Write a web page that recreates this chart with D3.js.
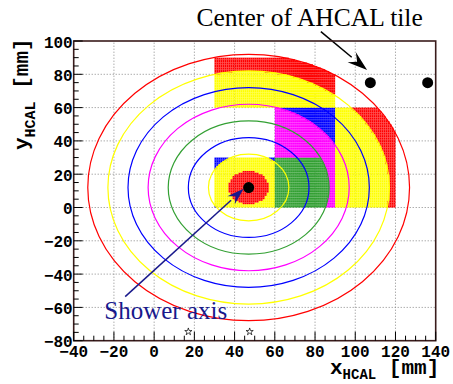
<!DOCTYPE html>
<html>
<head>
<meta charset="utf-8">
<script src="https://cdn.jsdelivr.net/npm/d3@7"></script>
<style>
  html, body { margin: 0; padding: 0; background: #fff; }
  svg { display: block; }
</style>
</head>
<body>
<div id="chart"></div>
<script>
// shower centre and ring structure (mm)
const showerCenter = [47, 12];
const ringRadii = [10, 20, 30, 40, 50, 60, 70, 80];
const ringColors = ["#ff0000", "#ffff00", "#0000ff", "#33a033", "#ff00ff", "#0000ff", "#ffff00", "#ff0000"];

// AHCAL tiles hit by the shower, with the ring range shown in each
const tileX0 = [30, 60, 60, 30, 90];
const tileX1 = [60, 90, 90, 90, 120];
const tileY0 = [0, 0, 30, 60, 0];
const tileY1 = [30, 30, 60, 90, 60];
const tileRingMin = [0, 3, 4, 6, 6];
const tileRingMax = [7, 4, 5, 7, 7];

// tile centres outside the shower, and star markers
const tileCenterX = [107.5, 136];
const tileCenterY = [75, 75];
const starX = [17, 47.5];
const starY = [-74.6, -74.6];

// annotation arrows
const showerArrowX = [-14.4, 44.5];
const showerArrowY = [-53.5, 11.2];
const tileArrowX = [82.9, 105.9];
const tileArrowY = [105.6, 82.6];

const xTicks = [-40, -20, 0, 20, 40, 60, 80, 100, 120, 140];
const yTicks = [-80, -60, -40, -20, 0, 20, 40, 60, 80, 100];

const width = 453, height = 384;
const margin = { top: 41, right: 17.3, bottom: 43.3, left: 73.7 };

const svg = d3.select("#chart").append("svg")
  .attr("width", width)
  .attr("height", height);

const x = d3.scaleLinear().domain([-40, 140]).range([margin.left, width - margin.right]);
const y = d3.scaleLinear().domain([-80, 100]).range([height - margin.bottom, margin.top]);

const monoFont = "'Liberation Mono', 'DejaVu Sans Mono', monospace";
const serifFont = "'Liberation Serif', 'DejaVu Serif', serif";

// grid
const grid = svg.append("g").attr("stroke", "#888").attr("stroke-width", 1).attr("stroke-dasharray", "1,2");
xTicks.slice(1, -1).forEach(t => {
  grid.append("line").attr("x1", x(t)).attr("x2", x(t)).attr("y1", y(-80)).attr("y2", y(100));
});
yTicks.slice(1, -1).forEach(t => {
  grid.append("line").attr("x1", x(-40)).attr("x2", x(140)).attr("y1", y(t)).attr("y2", y(t));
});

// tile cells, 1 mm bins coloured by ring
const cells = [];
tileX0.forEach((x0, k) => {
  for (let cx = x0; cx < tileX1[k]; cx++) {
    for (let cy = tileY0[k]; cy < tileY1[k]; cy++) {
      const d = Math.hypot(cx + 0.5 - showerCenter[0], cy + 0.5 - showerCenter[1]);
      let ring = Math.floor(d / 10);
      if (ring >= ringRadii.length) continue;
      ring = Math.max(tileRingMin[k], Math.min(tileRingMax[k], ring));
      cells.push({ x: cx, y: cy, ring });
    }
  }
});

svg.append("g").selectAll("rect")
  .data(cells)
  .join("rect")
  .attr("x", d => x(d.x))
  .attr("y", d => y(d.y + 1))
  .attr("width", x(1) - x(0))
  .attr("height", y(0) - y(1))
  .attr("fill", d => ringColors[d.ring]);

// ring circles
svg.append("g").attr("fill", "none").attr("stroke-width", 1.2)
  .selectAll("ellipse")
  .data(ringRadii.slice(1).map((r, i) => ({ r, c: ringColors[i + 1] })))
  .join("ellipse")
  .attr("cx", x(showerCenter[0]))
  .attr("cy", y(showerCenter[1]))
  .attr("rx", d => x(d.r) - x(0))
  .attr("ry", d => y(0) - y(d.r))
  .attr("stroke", d => d.c);

// shower centre
svg.append("circle")
  .attr("cx", x(showerCenter[0])).attr("cy", y(showerCenter[1]))
  .attr("r", 5.5).attr("fill", "#000");

// tile centres
svg.append("g").selectAll("circle")
  .data(tileCenterX)
  .join("circle")
  .attr("cx", d => x(d))
  .attr("cy", (d, i) => y(tileCenterY[i]))
  .attr("r", 5.5)
  .attr("fill", "#000");

// stars
svg.append("g").selectAll("path")
  .data(starX)
  .join("path")
  .attr("transform", (d, i) => `translate(${x(d)},${y(starY[i])})`)
  .attr("d", d3.symbol(d3.symbolStar, 16))
  .attr("fill", "#fff")
  .attr("stroke", "#000")
  .attr("stroke-width", 0.7);

function arrow(xs, ys, color, len, half, lw) {
  const x1 = x(xs[0]), y1 = y(ys[0]), x2 = x(xs[1]), y2 = y(ys[1]);
  const a = Math.atan2(y2 - y1, x2 - x1);
  const bx = x2 - len * Math.cos(a), by = y2 - len * Math.sin(a);
  svg.append("line")
    .attr("x1", x1).attr("y1", y1).attr("x2", bx).attr("y2", by)
    .attr("stroke", color).attr("stroke-width", lw);
  const p = [
    [x2, y2],
    [bx + half * Math.sin(a), by - half * Math.cos(a)],
    [bx + 0.35 * len * Math.cos(a), by + 0.35 * len * Math.sin(a)],
    [bx - half * Math.sin(a), by + half * Math.cos(a)]
  ];
  svg.append("path").attr("d", "M" + p.join("L") + "Z").attr("fill", color);
}

arrow(showerArrowX, showerArrowY, "#19198c", 17, 5.5, 1.5);
arrow(tileArrowX, tileArrowY, "#000", 20, 6.5, 1.5);

// frame
svg.append("rect")
  .attr("x", x(-40)).attr("y", y(100))
  .attr("width", x(140) - x(-40)).attr("height", y(-80) - y(100))
  .attr("fill", "none").attr("stroke", "#3a1c1c").attr("stroke-width", 1.6);

// ticks
const tk = svg.append("g").attr("stroke", "#000").attr("stroke-width", 1);
d3.range(-40, 141, 5).forEach(t => {
  const len = t % 20 === 0 ? 9 : 5;
  tk.append("line").attr("x1", x(t)).attr("x2", x(t)).attr("y1", y(-80)).attr("y2", y(-80) - len);
});
d3.range(-80, 101, 5).forEach(t => {
  const len = t % 20 === 0 ? 9 : 5;
  tk.append("line").attr("x1", x(-40)).attr("x2", x(-40) + len).attr("y1", y(t)).attr("y2", y(t));
});

const fmt = t => (t < 0 ? "\u2212" + Math.abs(t) : String(t));

svg.append("g").selectAll("text")
  .data(xTicks)
  .join("text")
  .attr("x", d => x(d))
  .attr("y", y(-80) + 16.5)
  .attr("text-anchor", "middle")
  .attr("font-family", monoFont).attr("font-weight", "bold").attr("font-size", 16)
  .text(fmt);

svg.append("g").selectAll("text")
  .data(yTicks)
  .join("text")
  .attr("x", x(-40) - 1)
  .attr("y", d => y(d) + 6.5)
  .attr("text-anchor", "end")
  .attr("font-family", monoFont).attr("font-weight", "bold").attr("font-size", 16)
  .text(fmt);

// axis titles
const xt = svg.append("text")
  .attr("x", 330).attr("y", 374)
  .attr("font-family", monoFont).attr("font-weight", "bold").attr("font-size", 21);
xt.append("tspan").text("x");
xt.append("tspan").attr("font-size", 14).attr("dy", 5).text("HCAL");
xt.append("tspan").attr("dy", -5).text(" [mm]");

const yt = svg.append("text")
  .attr("transform", "translate(28,150) rotate(-90)")
  .attr("font-family", monoFont).attr("font-weight", "bold").attr("font-size", 21);
yt.append("tspan").text("y");
yt.append("tspan").attr("font-size", 15).attr("dy", 7).text("HCAL");
yt.append("tspan").attr("dy", -7).text(" [mm]");

// annotations
svg.append("text")
  .attr("x", x(21)).attr("y", 26)
  .attr("font-family", serifFont).attr("font-size", 25.5)
  .attr("fill", "#000")
  .text("Center of AHCAL tile");

svg.append("text")
  .attr("x", x(-24.8)).attr("y", 318.5)
  .attr("font-family", serifFont).attr("font-size", 25)
  .attr("fill", "#19198c")
  .text("Shower axis");
</script>
</body>
</html>
